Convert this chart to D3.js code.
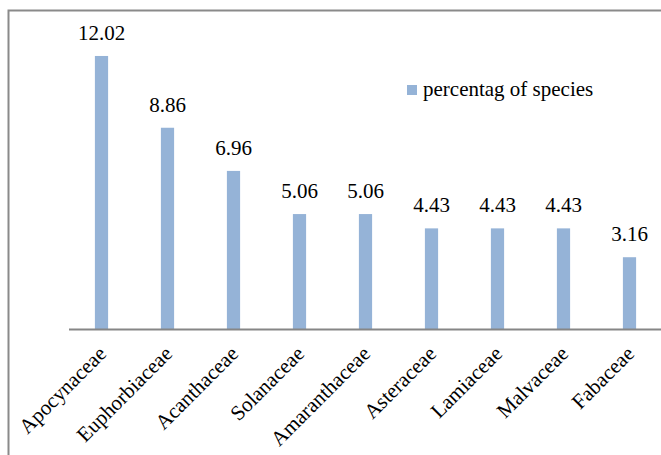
<!DOCTYPE html>
<html>
<head>
<meta charset="utf-8">
<script src="https://cdn.jsdelivr.net/npm/d3@7"></script>
<style>
  html, body { margin: 0; padding: 0; background: #fff; }
  svg { display: block; }
</style>
</head>
<body>
<svg id="chart" width="661" height="455"></svg>
<script>
// Families and their share of recorded species (%)
const families = ["Apocynaceae", "Euphorbiaceae", "Acanthaceae", "Solanaceae", "Amaranthaceae",
                  "Asteraceae", "Lamiaceae", "Malvaceae", "Fabaceae"];
const percentages = [12.02, 8.86, 6.96, 5.06, 5.06, 4.43, 4.43, 4.43, 3.16];
const seriesName = "percentag of species";

const FONT = "'Liberation Serif', 'Times New Roman', serif";
const svg = d3.select("#chart");

// chart frame (runs past the right and bottom edges)
svg.append("rect")
  .attr("x", 8.5).attr("y", 10.5)
  .attr("width", 700).attr("height", 500)
  .attr("fill", "none").attr("stroke", "#8a8a8a").attr("stroke-width", 2);

const plot = { left: 68.5, right: 662.5, top: 11, bottom: 329 };

const x = d3.scaleBand()
  .domain(families)
  .range([plot.left, plot.right])
  .paddingInner(0.8)
  .paddingOuter(0.4);

const y = d3.scaleLinear()
  .domain([0, 14])
  .range([plot.bottom, plot.top]);

const color = "#95b3d7";

// bars
svg.append("g").selectAll("rect")
  .data(families)
  .join("rect")
  .attr("x", d => x(d))
  .attr("width", x.bandwidth())
  .attr("y", (d, i) => y(percentages[i]))
  .attr("height", (d, i) => y(0) - y(percentages[i]))
  .attr("fill", color);

// value labels
svg.append("g").selectAll("text")
  .data(families)
  .join("text")
  .attr("x", d => x(d) + x.bandwidth() / 2)
  .attr("y", (d, i) => y(percentages[i]) - 16)
  .attr("text-anchor", "middle")
  .style("font-family", FONT)
  .style("font-size", "21px")
  .style("fill", "#000")
  .text((d, i) => percentages[i].toFixed(2));

// category axis
const xAxis = svg.append("g")
  .attr("transform", `translate(0,${plot.bottom})`)
  .call(d3.axisBottom(x).tickSize(0).tickPadding(0));
xAxis.select(".domain").attr("stroke", "#868686").attr("stroke-width", 2);
xAxis.selectAll(".tick text")
  .style("font-family", FONT)
  .style("font-size", "21px")
  .style("fill", "#000")
  .attr("text-anchor", "end")
  .attr("dy", 0)
  .attr("transform", "translate(6,26) rotate(-45)");

// legend
const legend = svg.append("g").attr("transform", "translate(407,85)");
legend.append("rect").attr("width", 10).attr("height", 10).attr("fill", color);
legend.append("text")
  .attr("x", 16).attr("y", 11)
  .style("font-family", FONT)
  .style("font-size", "21px")
  .style("fill", "#000")
  .text(seriesName);
</script>
</body>
</html>
